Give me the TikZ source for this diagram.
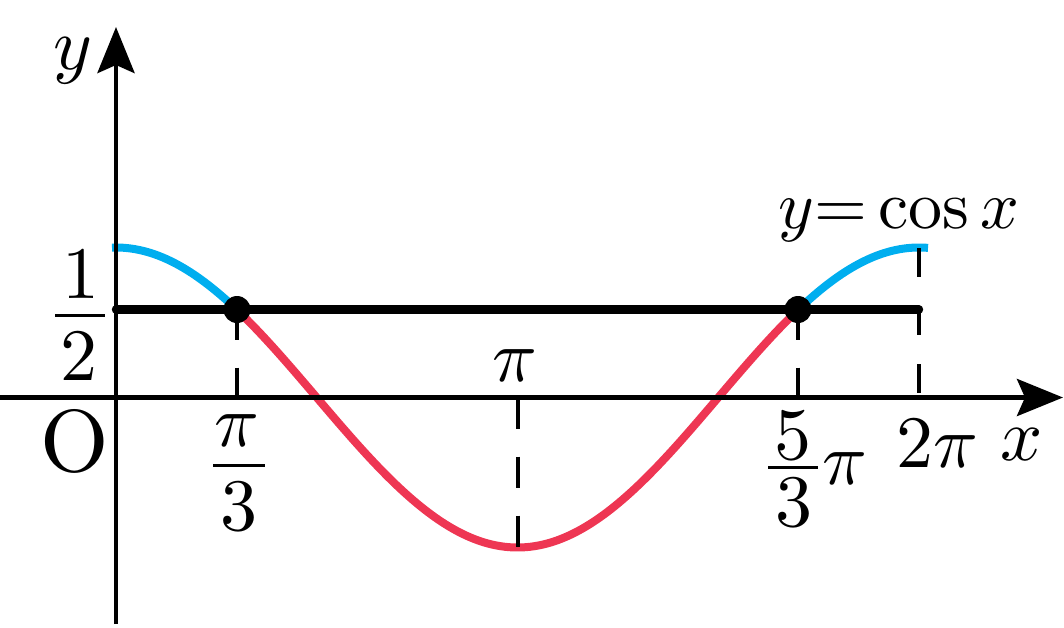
\RequirePackage{fix-cm}
\documentclass[tikz,border=0pt]{standalone}
\usepackage{amsmath}
\DeclareFontShape{OT1}{cmr}{m}{n}{<->cmr10}{}
\DeclareFontShape{OML}{cmm}{m}{it}{<->cmmi10}{}
\DeclareFontShape{OMS}{cmsy}{m}{n}{<->cmsy10}{}
\usetikzlibrary{arrows.meta}
\definecolor{cblue}{HTML}{00AEEF}
\definecolor{cred}{HTML}{EE3653}
\begin{document}
\begin{tikzpicture}[x=0.5pt,y=-0.5pt,
  axis/.style={line width=2.4pt,-{Stealth[length=23pt,width=18.5pt,inset=4pt]}},
  guide/.style={line width=2pt,dash pattern=on 15pt off 14pt},
  curveb/.style={line width=4pt,cblue},
  curver/.style={line width=4pt,cred},
  level/.style={line width=4.2pt,line cap=round},
  fracbar/.style={line width=1.5pt},
  dot/.style={circle,fill=black,inner sep=0pt,minimum size=13.5pt},
  lbl/.style={inner sep=0pt,anchor=base,font=\fontsize{37}{44}\selectfont}]
\useasboundingbox (0,0) rectangle (1064,627);
% curve y = cos x
\draw[curveb] plot[domain=112:237,samples=60] ({\x},{397.5-150*cos(deg((\x-116)*2*pi/803))});
\draw[curver] plot[domain=237:798,samples=160] ({\x},{397.5-150*cos(deg((\x-116)*2*pi/803))});
\draw[curveb] plot[domain=798:928,samples=60] ({\x},{397.5-150*cos(deg((\x-116)*2*pi/803))});
% axes
\coordinate (xs) at (0,397.5);
\coordinate (xe) at (1063,397.5);
\coordinate (ys) at (116,624);
\coordinate (ye) at (116,27);
\draw[axis] (xs) -- (xe);
\draw[axis] (ys) -- (ye);
% points
\coordinate (p1) at (237,309.5);
\coordinate (p2) at (798,309.5);
\coordinate (lL) at (116,309.5);
\coordinate (lR) at (919,309.5);
\coordinate (a1) at (237,397.5);
\coordinate (a2) at (798,397.5);
\coordinate (pit) at (517.5,397.5);
\coordinate (pib) at (517.5,548);
\coordinate (tpt) at (919,248);
\coordinate (tpb) at (919,397.5);
\draw[guide] (p1) -- (a1);
\draw[guide] (p2) -- (a2);
\draw[guide,dash pattern=on 15.5pt off 14pt] (pit) -- (pib);
\draw[guide,dash pattern=on 14.5pt off 14.5pt] (tpt) -- (tpb);
\draw[level] (lL) -- (lR);
\node[dot] (d1) at (p1) {};
\node[dot] (d2) at (p2) {};
% labels
\node[lbl] (ylab) at (73,69) {$y$};
\node[lbl] (xlab) at (1022,460) {$x$};
\node[lbl,font=\fontsize{44}{50}\selectfont] (O) at (75,471) {$\mathrm{O}$};
% 1/2
\node[lbl] (hn) at (80.5,298) {$1$};
\node[lbl] (hd) at (79,380) {$2$};
\coordinate (hbl) at (55,315);
\coordinate (hbr) at (105,315);
\draw[fracbar] (hbl) -- (hbr);
% pi/3
\node[lbl] (tn) at (237,446) {$\pi$};
\node[lbl] (td) at (239,530) {$3$};
\coordinate (tbl) at (213,465);
\coordinate (tbr) at (265,465);
\draw[fracbar] (tbl) -- (tbr);
% pi
\node[lbl] (pi) at (515,381) {$\pi$};
% 5/3 pi
\node[lbl] (fn) at (792.5,459) {$5$};
\node[lbl] (fd) at (793.5,526) {$3$};
\coordinate (fbl) at (768,467);
\coordinate (fbr) at (818,467);
\draw[fracbar] (fbl) -- (fbr);
\node[lbl] (fpi) at (845,484) {$\pi$};
% 2pi
\node[lbl] (tpi) at (937,467) {$2\pi$};
\node[lbl,font=\fontsize{34}{40}\selectfont] (eq) at (899,228) {$y{=}\cos x$};
\end{tikzpicture}
\end{document}
